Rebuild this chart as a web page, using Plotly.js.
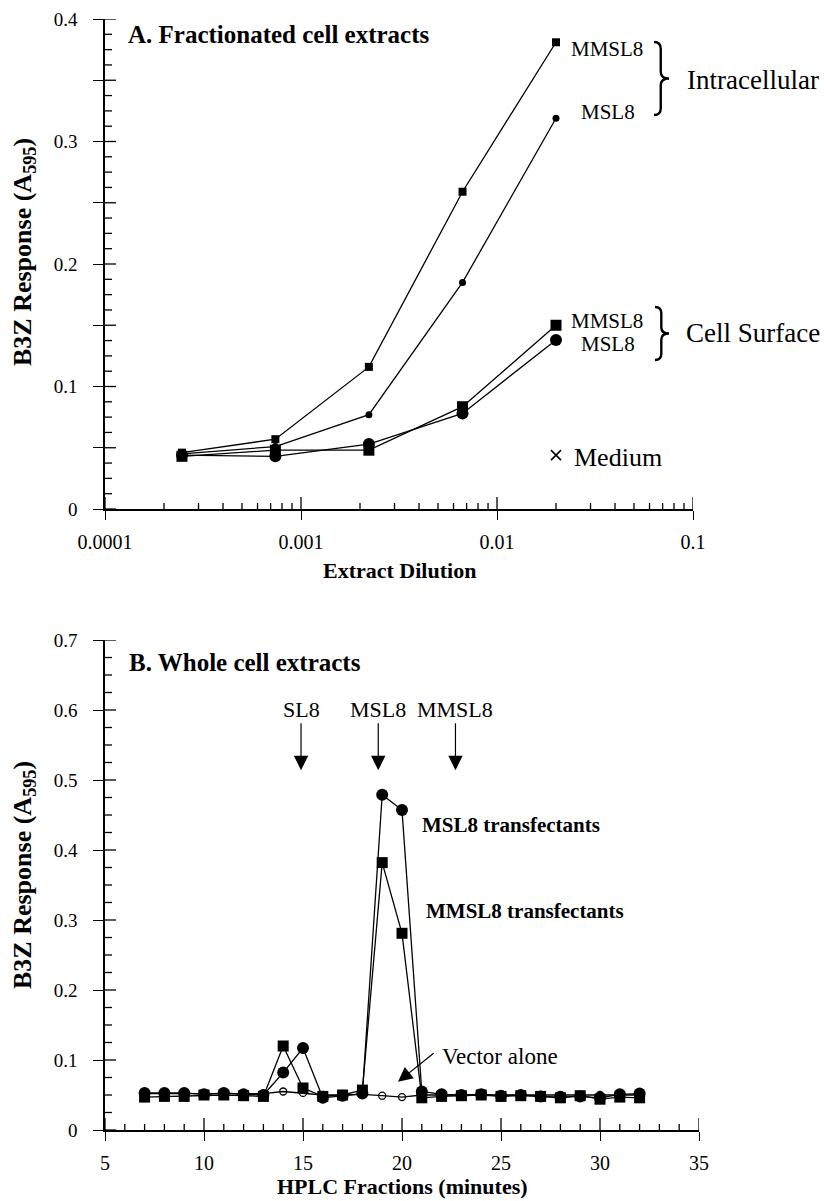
<!DOCTYPE html>
<html>
<head>
<meta charset="utf-8">
<script src="https://cdn.plot.ly/plotly-3.0.1.min.js"></script>
<style>html,body{margin:0;padding:0;background:#fff;}#chart{width:824px;height:1201px;}</style>
</head>
<body>
<div id="chart"></div>
<script>
// ---------- Panel A data ----------
const dilution = [0.000247, 0.00074, 0.00222, 0.00667, 0.02];
const intraMMSL8 = [0.046, 0.057, 0.116, 0.259, 0.381];
const intraMSL8  = [0.045, 0.051, 0.077, 0.185, 0.319];
const surfMMSL8  = [0.043, 0.048, 0.048, 0.0835, 0.150];
const surfMSL8   = [0.044, 0.043, 0.053, 0.078, 0.138];
const mediumX = [0.02];
const mediumY = [0.044];
const aXTickVals = [0.0001, 0.001, 0.01, 0.1];
const aXTickText = ['0.0001', '0.001', '0.01', '0.1'];
const aYTickVals = [0, 0.05, 0.1, 0.15, 0.2, 0.25, 0.3, 0.35, 0.4];
const aYTickText = ['0', '', '0.1', '', '0.2', '', '0.3', '', '0.4'];

// ---------- Panel B data ----------
const fractions = [7,8,9,10,11,12,13,14,15,16,17,18,19,20,21,22,23,24,25,26,27,28,29,30,31,32];
const msl8Transf  = [0.053,0.053,0.053,0.051,0.053,0.051,0.050,0.082,0.117,0.046,0.049,0.052,0.479,0.457,0.055,0.051,0.050,0.051,0.049,0.050,0.048,0.047,0.048,0.046,0.051,0.052];
const mmsl8Transf = [0.047,0.048,0.048,0.050,0.050,0.049,0.048,0.120,0.060,0.048,0.050,0.057,0.382,0.281,0.046,0.048,0.049,0.050,0.048,0.049,0.048,0.046,0.049,0.044,0.047,0.046];
const vectorAlone = [0.052,0.052,0.052,0.052,0.052,0.052,0.052,0.055,0.053,0.050,0.050,0.051,0.049,0.047,0.050,0.050,0.050,0.050,0.050,0.050,0.050,0.050,0.050,0.050,0.050,0.050];
const standards = ['SL8', 'MSL8', 'MMSL8'];
const standardX = [14.9, 18.8, 22.7];
const bYTickVals = [0, 0.1, 0.2, 0.3, 0.4, 0.5, 0.6, 0.7];
const bYTickText = ['0', '0.1', '0.2', '0.3', '0.4', '0.5', '0.6', '0.7'];
const bXTickVals = [5, 10, 15, 20, 25, 30, 35];

// ---------- helpers ----------
const W = 824, H = 1201;
const fx = v => v / W;
const fy = v => 1 - v / H;
const SERIF = 'Liberation Serif, Times New Roman, serif';

// plot-area frames (pixels) and axis ranges
const FA = {l: 105, r: 693, b: 509, t: 19, x0: -4, x1: -1, y0: 0, y1: 0.4};
const FB = {l: 105, r: 699, b: 1130, t: 640, x0: 5, x1: 35, y0: 0, y1: 0.7};

// minor tick positions (axis decoration only)
const minorLog = [];
for (let d = -4; d < -1; d++) for (let k = 2; k <= 9; k++) minorLog.push(k * Math.pow(10, d));
const minorYA = [];
for (let k = 0; k <= 32; k++) if (k % 4) minorYA.push(+(k * 0.0125).toFixed(4));
const minorYB = [];
for (let k = 0; k <= 28; k++) if (k % 4) minorYB.push(+(k * 0.025).toFixed(4));
const minorXB = [];
for (let k = 5; k <= 35; k++) if (k % 5) minorXB.push(k);

// inside halves of the crossing tick marks, built as a line trace on each panel's axes
function tickTrace(F, isLog, xa, ya, majX, minX, majY, minY) {
  const pxX = (F.r - F.l) / (F.x1 - F.x0);   // pixels per x-range unit
  const pxY = (F.b - F.t) / (F.y1 - F.y0);   // pixels per y unit
  const xs = [], ys = [];
  const xStart = isLog ? Math.pow(10, F.x0) : F.x0;
  const xAt = len => isLog ? Math.pow(10, F.x0 + len / pxX) : F.x0 + len / pxX;
  const addY = (vals, len) => vals.forEach(v => { xs.push(xStart, xAt(len), null); ys.push(v, v, null); });
  const addX = (vals, len) => vals.forEach(v => { xs.push(v, v, null); ys.push(F.y0, F.y0 + len / pxY, null); });
  addY(majY, 11); addY(minY, 7); addX(majX, 12); addX(minX, 6);
  return {x: xs, y: ys, xaxis: xa, yaxis: ya, mode: 'lines', connectgaps: false,
          line: {color: '#000000', width: 1.3}, hoverinfo: 'skip', showlegend: false, name: 'ticks'};
}

function P(x, y) { return fx(x).toFixed(5) + ',' + fy(y).toFixed(5); }
function brace(x0, yT, yB, w) {
  const xm = x0 + w * 0.45, ym = (yT + yB) / 2, r = w * 0.45;
  return 'M' + P(x0, yT) + ' Q' + P(xm, yT) + ' ' + P(xm, yT + r) +
         ' L' + P(xm, ym - r) + ' Q' + P(xm, ym) + ' ' + P(x0 + w, ym) +
         ' Q' + P(xm, ym) + ' ' + P(xm, ym + r) +
         ' L' + P(xm, yB - r) + ' Q' + P(xm, yB) + ' ' + P(x0, yB);
}

const line = {color: '#000000', width: 1.3};
const traces = [
  tickTrace(FA, true, 'x', 'y', aXTickVals, minorLog, aYTickVals, minorYA),
  tickTrace(FB, false, 'x2', 'y2', bXTickVals, minorXB, bYTickVals, minorYB),

  {x: dilution, y: intraMMSL8, xaxis: 'x', yaxis: 'y', mode: 'lines+markers', line: line,
   marker: {symbol: 'square', size: 8, color: '#000000'}, name: 'Intracellular MMSL8'},
  {x: dilution, y: intraMSL8, xaxis: 'x', yaxis: 'y', mode: 'lines+markers', line: line,
   marker: {symbol: 'circle', size: 7, color: '#000000'}, name: 'Intracellular MSL8'},
  {x: dilution, y: surfMMSL8, xaxis: 'x', yaxis: 'y', mode: 'lines+markers', line: line,
   marker: {symbol: 'square', size: 11, color: '#000000'}, name: 'Cell Surface MMSL8'},
  {x: dilution, y: surfMSL8, xaxis: 'x', yaxis: 'y', mode: 'lines+markers', line: line,
   marker: {symbol: 'circle', size: 12, color: '#000000'}, name: 'Cell Surface MSL8'},
  {x: mediumX, y: mediumY, xaxis: 'x', yaxis: 'y', mode: 'markers',
   marker: {symbol: 'x-thin-open', size: 10, color: '#000000', line: {color: '#000000', width: 1.5}}, name: 'Medium'},

  {x: fractions, y: vectorAlone, xaxis: 'x2', yaxis: 'y2', mode: 'lines+markers', line: line,
   marker: {symbol: 'circle-open', size: 7, color: '#000000', line: {width: 1.3, color: '#000000'}}, name: 'Vector alone'},
  {x: fractions, y: mmsl8Transf, xaxis: 'x2', yaxis: 'y2', mode: 'lines+markers', line: line,
   marker: {symbol: 'square', size: 11, color: '#000000'}, name: 'MMSL8 transfectants'},
  {x: fractions, y: msl8Transf, xaxis: 'x2', yaxis: 'y2', mode: 'lines+markers', line: line,
   marker: {symbol: 'circle', size: 12, color: '#000000'}, name: 'MSL8 transfectants'}
];

const tickFontX = {family: SERIF, size: 20, color: '#000000'};
const tickFontY = {family: SERIF, size: 19, color: '#000000'};
const base = {showgrid: false, zeroline: false, tickcolor: '#000000', linecolor: '#000000', autorange: false};

const layout = {
  width: W, height: H,
  margin: {l: 0, r: 0, t: 0, b: 0},
  paper_bgcolor: '#ffffff', plot_bgcolor: '#ffffff',
  showlegend: false,
  font: {family: SERIF, color: '#000000'},
  xaxis: Object.assign({}, base, {domain: [fx(FA.l), fx(FA.r)], anchor: 'y', type: 'log', range: [FA.x0, FA.x1],
    showline: true, linewidth: 1.5, ticks: 'outside', ticklen: 9, tickwidth: 1.4,
    tickmode: 'array', tickvals: aXTickVals, ticktext: aXTickText, tickfont: tickFontX, ticklabelstandoff: 5}),
  yaxis: Object.assign({}, base, {domain: [fy(FA.b), fy(FA.t)], anchor: 'x', range: [FA.y0, FA.y1],
    showline: true, linewidth: 1.5, ticks: 'outside', ticklen: 10, tickwidth: 1.4,
    tickmode: 'array', tickvals: aYTickVals, ticktext: aYTickText, tickfont: tickFontY, ticklabelstandoff: 12}),
  xaxis2: Object.assign({}, base, {domain: [fx(FB.l), fx(FB.r)], anchor: 'y2', range: [FB.x0, FB.x1],
    showline: true, linewidth: 1.5, ticks: 'outside', ticklen: 9, tickwidth: 1.4,
    tickmode: 'array', tickvals: bXTickVals, tickfont: tickFontX, ticklabelstandoff: 5}),
  yaxis2: Object.assign({}, base, {domain: [fy(FB.b), fy(FB.t)], anchor: 'x2', range: [FB.y0, FB.y1],
    showline: true, linewidth: 1.5, ticks: 'outside', ticklen: 10, tickwidth: 1.4,
    tickmode: 'array', tickvals: bYTickVals, ticktext: bYTickText, tickfont: tickFontY, ticklabelstandoff: 12}),
  shapes: [
    {type: 'path', xref: 'paper', yref: 'paper', path: brace(654, 42, 115, 15), line: {color: '#000000', width: 2.4}},
    {type: 'path', xref: 'paper', yref: 'paper', path: brace(655, 307, 360, 14), line: {color: '#000000', width: 2.4}}
  ],
  annotations: []
};

const A = layout.annotations;
function txt(text, x, y, size, opts) {
  A.push(Object.assign({text: text, xref: 'paper', yref: 'paper', x: fx(x), y: fy(y),
    xanchor: 'left', yanchor: 'middle', showarrow: false,
    font: {family: SERIF, size: size, color: '#000000'}}, opts || {}));
}
// Panel A texts
txt('<b>A. Fractionated cell extracts</b>', 126, 35, 25);
txt('MMSL8', 569, 49, 21);
txt('MSL8', 579, 112, 21);
txt('Intracellular', 685, 80, 27);
txt('MMSL8', 569, 321, 21);
txt('MSL8', 579, 344, 21);
txt('Cell Surface', 684, 333, 27);
txt('Medium', 572, 457, 26);
txt('<b>Extract Dilution</b>', 399, 570, 22, {xanchor: 'center'});
txt('<b>B3Z Response (A<sub>595</sub>)</b>', 24, 252, 26, {xanchor: 'center', textangle: -90});

// Panel B texts
txt('<b>B. Whole cell extracts</b>', 127, 662, 25);
txt('<b>MSL8 transfectants</b>', 420, 825, 21);
txt('<b>MMSL8 transfectants</b>', 424, 911, 21);
txt('Vector alone', 440, 1056, 23);
txt('<b>HPLC Fractions (minutes)</b>', 402, 1186, 22, {xanchor: 'center'});
txt('<b>B3Z Response (A<sub>595</sub>)</b>', 24, 875, 26, {xanchor: 'center', textangle: -90});

// Standard arrows (SL8, MSL8, MMSL8)
standards.forEach((s, i) => {
  A.push({text: s, xref: 'x2', yref: 'y2', x: standardX[i], y: 0.514,
    axref: 'x2', ayref: 'y2', ax: standardX[i], ay: 0.601,
    showarrow: true, arrowhead: 2, arrowsize: 2.4, arrowwidth: 1.2, arrowcolor: '#000000', standoff: 0,
    font: {family: SERIF, size: 22, color: '#000000'}});
});
// Vector alone arrow
A.push({text: ' ', xref: 'x2', yref: 'y2', x: 19.8, y: 0.069,
  axref: 'x2', ayref: 'y2', ax: 21.7, ay: 0.112,
  showarrow: true, arrowhead: 2, arrowsize: 2.4, arrowwidth: 1.2, arrowcolor: '#000000', standoff: 0,
  font: {family: SERIF, size: 2, color: '#000000'}});

Plotly.newPlot('chart', traces, layout, {displayModeBar: false});
</script>
</body>
</html>
